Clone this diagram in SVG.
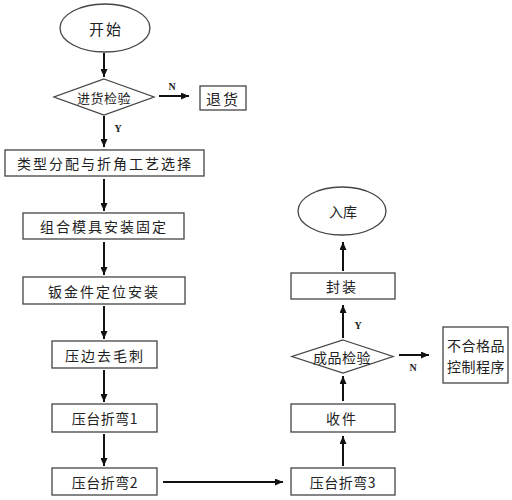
<svg xmlns="http://www.w3.org/2000/svg" width="512" height="500" viewBox="0 0 512 500">
<defs>
<marker id="ah" markerWidth="8" markerHeight="7" refX="8" refY="3.5" orient="auto" markerUnits="userSpaceOnUse">
<path d="M0,0 L8,3.5 L0,7 Z" fill="#111"/>
</marker>
<style>
.box{fill:#fff;stroke:#444;stroke-width:1.3}
.t{font-family:"Noto Sans CJK SC","Liberation Sans",sans-serif;font-size:14px;fill:#222;text-anchor:middle;dominant-baseline:central;letter-spacing:2px}
.lbl{font-family:"Liberation Serif",serif;font-size:10px;font-weight:bold;fill:#222;text-anchor:middle;dominant-baseline:central}
.c{stroke:#111;stroke-width:2;fill:none;marker-end:url(#ah)}
</style>
</defs>
<rect width="512" height="500" fill="#fff"/>
<g id="start"><ellipse class="box" cx="105" cy="28" rx="45" ry="24"/><text class="t" x="106" y="28" style="font-size:15px">开始</text></g>
<g id="check-in"><polygon class="box" points="104,79 154,97 104,115 54,97"/><text class="t" x="104" y="97" style="font-size:13px;letter-spacing:0.5px">进货检验</text></g>
<g id="return"><rect class="box" x="200" y="86" width="46" height="24"/><text class="t" x="223" y="98" style="font-size:15px">退货</text></g>
<g id="n1"><rect class="box" x="5" y="150" width="199" height="26"/><text class="t" x="105" y="163">类型分配与折角工艺选择</text></g>
<g id="n2"><rect class="box" x="23" y="213" width="161" height="26"/><text class="t" x="104" y="226">组合模具安装固定</text></g>
<g id="n3"><rect class="box" x="23" y="277" width="162" height="27"/><text class="t" x="104" y="290.5">钣金件定位安装</text></g>
<g id="n4"><rect class="box" x="52" y="341" width="105" height="27"/><text class="t" x="105" y="354.5">压边去毛刺</text></g>
<g id="n5"><rect class="box" x="52" y="404" width="105" height="28"/><text class="t" x="105" y="418" style="letter-spacing:0.5px">压台折弯1</text></g>
<g id="n6"><rect class="box" x="52" y="468" width="105" height="27"/><text class="t" x="105" y="481.5" style="letter-spacing:0.5px">压台折弯2</text></g>
<g id="n7"><rect class="box" x="291" y="468" width="104" height="27"/><text class="t" x="343" y="481.5" style="letter-spacing:0.5px">压台折弯3</text></g>
<g id="n8"><rect class="box" x="291" y="404" width="104" height="28"/><text class="t" x="342" y="418">收件</text></g>
<g id="qc"><polygon class="box" points="343,340 393,356.5 343,373 292,356.5"/><text class="t" x="342" y="356.5" style="letter-spacing:0.5px">成品检验</text></g>
<g id="reject"><rect class="box" x="443" y="327" width="65" height="56"/><text class="t" x="476" y="345" style="letter-spacing:0.5px">不合格品</text><text class="t" x="476" y="366" style="letter-spacing:0.5px">控制程序</text></g>
<g id="n9"><rect class="box" x="291" y="273" width="104" height="26"/><text class="t" x="342" y="286">封装</text></g>
<g id="end"><ellipse class="box" cx="342" cy="211" rx="44" ry="24"/><text class="t" x="343" y="211" style="letter-spacing:0">入库</text></g>
<g id="connectors">
<line class="c" x1="104" y1="53" x2="104" y2="77"/>
<line class="c" x1="159" y1="96" x2="189" y2="96"/>
<line class="c" x1="104" y1="116" x2="104" y2="147"/>
<line class="c" x1="104" y1="179" x2="104" y2="211"/>
<line class="c" x1="104" y1="242" x2="104" y2="275"/>
<line class="c" x1="104" y1="306" x2="104" y2="339"/>
<line class="c" x1="104" y1="370" x2="104" y2="402"/>
<line class="c" x1="104" y1="434" x2="104" y2="466"/>
<line class="c" x1="163" y1="482" x2="283" y2="482"/>
<line class="c" x1="343" y1="466" x2="343" y2="436"/>
<line class="c" x1="343" y1="401" x2="343" y2="376"/>
<line class="c" x1="343" y1="338" x2="343" y2="305"/>
<line class="c" x1="343" y1="271" x2="343" y2="242"/>
<line class="c" x1="399" y1="355" x2="429" y2="355"/>
<text class="lbl" x="172" y="86">N</text>
<text class="lbl" x="118" y="128">Y</text>
<text class="lbl" x="358" y="325">Y</text>
<text class="lbl" x="413" y="367">N</text>
</g>
</svg>
